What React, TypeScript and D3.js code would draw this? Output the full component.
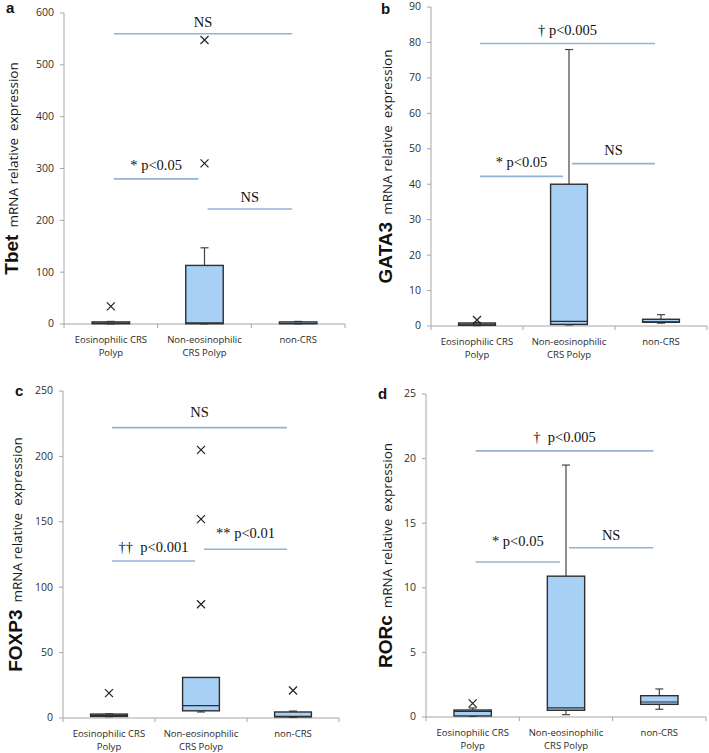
import React from 'react';
import * as d3 from 'd3';

// group labels (two lines each)
const categories: string[][] = [
  ['Eosinophilic CRS', 'Polyp'],
  ['Non-eosinophilic', 'CRS Polyp'],
  ['non-CRS'],
];

interface BoxStat {
  q1: number;
  median: number;
  q3: number;
  min: number;
  max: number;
  outliers: number[];
}

interface Bracket {
  from: number;
  to: number;
  value: number;
  label: string;
  gap?: number;
}

// a: Tbet
const tbetBoxes: BoxStat[] = [
  { q1: 0.5, median: 1.5, q3: 4, min: 0.2, max: 5, outliers: [34] },
  { q1: 0.5, median: 2, q3: 113, min: 0.2, max: 147, outliers: [310, 548] },
  { q1: 0.5, median: 1, q3: 4, min: 0.3, max: 5, outliers: [] },
];
const tbetBrackets: Bracket[] = [
  { from: 0, to: 2, value: 560, label: 'NS', gap: 7 },
  { from: 0, to: 1, value: 280, label: '* p<0.05' },
  { from: 1, to: 2, value: 222, label: 'NS', gap: 7 },
];

// b: GATA3
const gataBoxes: BoxStat[] = [
  { q1: 0.2, median: 0.5, q3: 0.85, min: 0.1, max: 1.0, outliers: [1.7] },
  { q1: 0.45, median: 1.3, q3: 40, min: 0.3, max: 78, outliers: [] },
  { q1: 1.05, median: 1.2, q3: 1.9, min: 0.8, max: 3.2, outliers: [] },
];
const gataBrackets: Bracket[] = [
  { from: 0, to: 2, value: 79.7, label: '\u2020 p<0.005' },
  { from: 0, to: 1, value: 42.2, label: '* p<0.05' },
  { from: 1, to: 2, value: 45.8, label: 'NS' },
];

// c: FOXP3
const foxBoxes: BoxStat[] = [
  { q1: 1.2, median: 2, q3: 3, min: 1, max: 3.2, outliers: [19] },
  { q1: 5.5, median: 9.5, q3: 31, min: 4.6, max: 12, outliers: [87, 152, 205] },
  { q1: 0.8, median: 1.2, q3: 4.6, min: 0.5, max: 5.3, outliers: [21] },
];
const foxBrackets: Bracket[] = [
  { from: 0, to: 2, value: 222, label: 'NS', gap: 11 },
  { from: 0, to: 1, value: 120, label: '\u2020\u2020  p<0.001' },
  { from: 1, to: 2, value: 129, label: '** p<0.01', gap: 11 },
];

// d: RORc
const rorBoxes: BoxStat[] = [
  { q1: 0.08, median: 0.44, q3: 0.54, min: 0.05, max: 0.7, outliers: [1.05] },
  { q1: 0.52, median: 0.7, q3: 10.9, min: 0.18, max: 19.5, outliers: [] },
  { q1: 0.98, median: 1.16, q3: 1.65, min: 0.6, max: 2.17, outliers: [] },
];
const rorBrackets: Bracket[] = [
  { from: 0, to: 2, value: 20.6, label: '\u2020  p<0.005' },
  { from: 0, to: 1, value: 12, label: '* p<0.05', gap: 16 },
  { from: 1, to: 2, value: 13.1, label: 'NS', gap: 8 },
];

interface PanelProps {
  letter: string;
  gene: string;
  yMax: number;
  step: number;
  boxes: BoxStat[];
  brackets: Bracket[];
  left: number;
  right: number;
  top: number;
  bottom: number;
  labelX: number;
  letterX: number;
  letterY: number;
}

const BOX_FILL = '#a8d0f5';
const BOX_STROKE = '#2e2e2e';
const SIG = '#92b3d4';
const AXIS = '#a6a6a6';
const SANS = '"Open Sans", sans-serif';
const SERIF = '"Liberation Serif", "Times New Roman", serif';

const Panel: React.FC<PanelProps> = (p) => {
  const x = d3.scaleBand<number>()
    .domain(categories.map((_, i) => i))
    .range([p.left, p.right])
    .padding(0);
  const y = d3.scaleLinear().domain([0, p.yMax]).range([p.bottom, p.top]);
  const ticks = d3.range(0, p.yMax + p.step / 2, p.step);
  const bw = x.bandwidth();
  const boxW = bw * 0.4;
  const cx = (i: number) => (x(i) ?? 0) + bw / 2;
  const capW = 8;

  return (
    <g>
      <text x={p.letterX} y={p.letterY} fontFamily="Liberation Sans, Arial" fontWeight="bold" fontSize={15} fill="#111">
        {p.letter}
      </text>

      {/* y axis */}
      <line x1={p.left} x2={p.left} y1={p.top} y2={p.bottom} stroke={AXIS} strokeWidth={1} />
      {ticks.map((t) => (
        <g key={t}>
          <line x1={p.left - 4} x2={p.left} y1={y(t)} y2={y(t)} stroke={AXIS} />
          <text x={p.left - 10} y={y(t)} dy="0.33em" textAnchor="end" fontFamily={SANS} fontSize={10.5} fill="#2f2f2f">
            {t}
          </text>
        </g>
      ))}

      {/* x axis */}
      <line x1={p.left} x2={p.right} y1={p.bottom} y2={p.bottom} stroke={AXIS} />
      {[...categories.map((_, i) => x(i) ?? 0), p.right].map((v, i) => (
        <line key={i} x1={v} x2={v} y1={p.bottom} y2={p.bottom + 4} stroke={AXIS} />
      ))}
      {categories.map((lines, i) => (
        <text key={i} textAnchor="middle" fontFamily={SANS} fontSize={9.5} fill="#2a2a2a">
          {lines.map((l, j) => (
            <tspan key={j} x={cx(i)} y={p.bottom + 19 + j * 13}>{l}</tspan>
          ))}
        </text>
      ))}

      {/* y label */}
      <text
        transform={`translate(${p.labelX},${(p.top + p.bottom) / 2}) rotate(-90)`}
        textAnchor="middle"
        style={{ whiteSpace: 'pre' }}
        fill="#111"
      >
        <tspan fontFamily="Liberation Sans, Arial" fontWeight="bold" fontSize={19}>{p.gene}</tspan>
        <tspan fontFamily={SANS} fontSize={13.5} fill="#1a1a1a">{'  mRNA relative  expression'}</tspan>
      </text>

      {/* boxes */}
      {p.boxes.map((b, i) => {
        const c = cx(i);
        return (
          <g key={i}>
            <line x1={c} x2={c} y1={y(b.q3)} y2={y(b.max)} stroke="#444" strokeWidth={1.2} />
            <line x1={c - capW / 2} x2={c + capW / 2} y1={y(b.max)} y2={y(b.max)} stroke="#444" strokeWidth={1.2} />
            <line x1={c} x2={c} y1={y(b.q1)} y2={y(b.min)} stroke="#444" strokeWidth={1.2} />
            <line x1={c - capW / 2} x2={c + capW / 2} y1={y(b.min)} y2={y(b.min)} stroke="#444" strokeWidth={1.2} />
            <rect
              x={c - boxW / 2}
              width={boxW}
              y={y(b.q3)}
              height={Math.max(0.5, y(b.q1) - y(b.q3))}
              fill={BOX_FILL}
              stroke={BOX_STROKE}
              strokeWidth={1.4}
            />
            <line x1={c - boxW / 2} x2={c + boxW / 2} y1={y(b.median)} y2={y(b.median)} stroke={BOX_STROKE} strokeWidth={1.2} />
            {b.outliers.map((o, k) => (
              <path
                key={k}
                d={`M${c - 4},${y(o) - 4}L${c + 4},${y(o) + 4}M${c + 4},${y(o) - 4}L${c - 4},${y(o) + 4}`}
                stroke="#222"
                strokeWidth={1.2}
                fill="none"
              />
            ))}
          </g>
        );
      })}

      {/* significance lines */}
      {p.brackets.map((s, i) => {
        const x1 = cx(s.from) + 3;
        const x2 = cx(s.to) - 6;
        const yy = y(s.value);
        return (
          <g key={i}>
            <line x1={x1} x2={x2} y1={yy} y2={yy} stroke={SIG} strokeWidth={1.6} />
            <text
              x={(x1 + x2) / 2}
              y={yy - (s.gap ?? 9)}
              textAnchor="middle"
              fontFamily={SERIF}
              fontSize={14.5}
              fill="#111"
              style={{ whiteSpace: 'pre' }}
            >
              {s.label}
            </text>
          </g>
        );
      })}
    </g>
  );
};

export default function App() {
  return (
    <svg width={709} height={753} style={{ position: 'absolute', left: 0, top: 0, background: '#fff' }}>
      <rect width={709} height={753} fill="#fff" />
      <Panel letter="a" gene="Tbet" yMax={600} step={100} boxes={tbetBoxes} brackets={tbetBrackets}
        left={64} right={345} top={13} bottom={324} labelX={18} letterX={6} letterY={13} />
      <Panel letter="b" gene="GATA3" yMax={90} step={10} boxes={gataBoxes} brackets={gataBrackets}
        left={431} right={707} top={7} bottom={326} labelX={392} letterX={381} letterY={14} />
      <Panel letter="c" gene="FOXP3" yMax={250} step={50} boxes={foxBoxes} brackets={foxBrackets}
        left={63} right={339} top={391} bottom={718} labelX={22} letterX={15} letterY={396} />
      <Panel letter="d" gene="RORc" yMax={25} step={5} boxes={rorBoxes} brackets={rorBrackets}
        left={426} right={706} top={394} bottom={717} labelX={392} letterX={378} letterY={399} />
    </svg>
  );
}
